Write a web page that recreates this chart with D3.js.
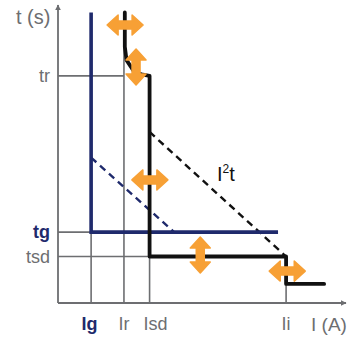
<!DOCTYPE html>
<html>
<head>
<meta charset="utf-8">
<script src="https://cdn.jsdelivr.net/npm/d3@7"></script>
<style>
  body { margin: 0; background: #fff; }
  svg text { font-family: "Liberation Sans", Arial, sans-serif; }
</style>
</head>
<body>
<div id="chart-area"></div>
<script>
// settings on a relative current / time scale (0..100)
var xTicks = [
  { name: "Ig", value: 11.5, bold: true },
  { name: "Ir", value: 22.9 },
  { name: "Isd", value: 31.8 },
  { name: "Ii", value: 79.2 }
];
var yTicks = [
  { name: "tr", value: 76.2 },
  { name: "tg", value: 23.8, bold: true },
  { name: "tsd", value: 15.6 }
];

// breaker trip curve (black)
var tripCurve = [
  [23.2, 97.5], [23.2, 86], [23.8, 81.5], [26.5, 77.5], [29.5, 76.6], [31.8, 76.2],
  [31.8, 15.6], [79.2, 15.6], [79.2, 6.4], [92.4, 6.4]
];
// ground fault curve (blue)
var groundCurve = [[11.5, 97.5], [11.5, 23.8], [76.4, 23.8]];
// I²t dashed lines
var i2tBlack = [[31.8, 57.4], [79.2, 15.6]];
var i2tBlue = [[11.5, 48.8], [40.3, 23.8]];

// grid segments [x1, y1, x2, y2]
var gridLines = [
  [0, 76.2, 22.9, 76.2],
  [0, 23.8, 11.5, 23.8],
  [0, 15.6, 31.8, 15.6],
  [11.5, 0, 11.5, 23.8],
  [22.9, 0, 22.9, 86],
  [31.8, 0, 31.8, 15.6],
  [79.2, 0, 79.2, 6.4]
];

// adjustment arrows: centre, direction
var arrows = [
  { x: 23.3, y: 93.3, dir: "h" },
  { x: 27.1, y: 79.2, dir: "v" },
  { x: 31.9, y: 41.3, dir: "h" },
  { x: 49.4, y: 16.1, dir: "v" },
  { x: 79.6, y: 10.7, dir: "h" }
];

var width = 348, height = 337;
var orange = "#f7a035", navy = "#1f2a6c", grey = "#6d6e71";

var x = d3.scaleLinear().domain([0, 100]).range([58, 346]);
var y = d3.scaleLinear().domain([0, 100]).range([303, 5]);

var svg = d3.select("#chart-area").append("svg")
  .attr("width", width)
  .attr("height", height);

var line = d3.line()
  .x(function(d){ return x(d[0]); })
  .y(function(d){ return y(d[1]); });

svg.selectAll(".grid").data(gridLines).enter()
  .append("line")
    .attr("class", "grid")
    .attr("x1", function(d){ return x(d[0]); })
    .attr("y1", function(d){ return y(d[1]); })
    .attr("x2", function(d){ return x(d[2]); })
    .attr("y2", function(d){ return y(d[3]); })
    .attr("stroke", grey)
    .attr("stroke-width", 1.6);

// axes with arrow heads
svg.append("defs").append("marker")
  .attr("id", "arrowhead")
  .attr("viewBox", "0 0 10 10")
  .attr("refX", 9).attr("refY", 5)
  .attr("markerWidth", 6).attr("markerHeight", 6)
  .attr("markerUnits", "userSpaceOnUse")
  .attr("orient", "auto")
  .append("path")
    .attr("d", "M0,0 L10,5 L0,10 z")
    .attr("fill", grey);

svg.append("line")
  .attr("x1", x(0)).attr("y1", y(0))
  .attr("x2", x(100)).attr("y2", y(0))
  .attr("stroke", grey).attr("stroke-width", 1.8)
  .attr("marker-end", "url(#arrowhead)");
svg.append("line")
  .attr("x1", x(0)).attr("y1", y(0))
  .attr("x2", x(0)).attr("y2", y(100))
  .attr("stroke", grey).attr("stroke-width", 1.8)
  .attr("marker-end", "url(#arrowhead)");

svg.append("path").datum(i2tBlue)
  .attr("d", line).attr("fill", "none")
  .attr("stroke", navy).attr("stroke-width", 2.4)
  .attr("stroke-dasharray", "7,5");
svg.append("path").datum(i2tBlack)
  .attr("d", line).attr("fill", "none")
  .attr("stroke", "#111").attr("stroke-width", 2.4)
  .attr("stroke-dasharray", "7,5");

svg.append("path").datum(groundCurve)
  .attr("d", line).attr("fill", "none")
  .attr("stroke", navy).attr("stroke-width", 3.6);
svg.append("path").datum(tripCurve)
  .attr("d", line).attr("fill", "none")
  .attr("stroke", "#111").attr("stroke-width", 3.8)
  .attr("stroke-linejoin", "round").attr("stroke-linecap", "round");

// double-headed orange arrows
function arrowPath(d) {
  var L = 18, head = 11, hw = 10, sw = 4;
  var pts = [[-L, 0], [-L + head, -hw], [-L + head, -sw], [L - head, -sw], [L - head, -hw],
             [L, 0], [L - head, hw], [L - head, sw], [-L + head, sw], [-L + head, hw]];
  if (d.dir === "v") pts = pts.map(function(p){ return [p[1], p[0]]; });
  return "M" + pts.map(function(p){ return p.join(","); }).join("L") + "Z";
}
svg.selectAll(".adj").data(arrows).enter()
  .append("path")
    .attr("class", "adj")
    .attr("transform", function(d){ return "translate(" + x(d.x) + "," + y(d.y) + ")"; })
    .attr("d", arrowPath)
    .attr("fill", orange)
    .attr("stroke", orange)
    .attr("stroke-width", 1.5)
    .attr("stroke-linejoin", "round");

// tick labels
svg.selectAll(".xlab").data(xTicks).enter()
  .append("text")
    .attr("class", "xlab")
    .attr("x", function(d){ return x(d.value); })
    .attr("dx", function(d){ return d.name === "Isd" ? 6 : (d.name === "Ig" ? -1.5 : 0); })
    .attr("y", 330)
    .attr("text-anchor", "middle")
    .attr("font-size", "18px")
    .attr("font-weight", function(d){ return d.bold ? "bold" : "normal"; })
    .attr("fill", function(d){ return d.bold ? navy : grey; })
    .text(function(d){ return d.name; });

svg.selectAll(".ylab").data(yTicks).enter()
  .append("text")
    .attr("class", "ylab")
    .attr("x", 50)
    .attr("y", function(d){ return y(d.value); })
    .attr("dy", "0.35em")
    .attr("text-anchor", "end")
    .attr("font-size", "18px")
    .attr("font-weight", function(d){ return d.bold ? "bold" : "normal"; })
    .attr("fill", function(d){ return d.bold ? navy : grey; })
    .text(function(d){ return d.name; });

svg.append("text")
  .attr("x", 16).attr("y", 24)
  .attr("font-size", "20px").attr("fill", grey)
  .text("t (s)");
svg.append("text")
  .attr("x", 311).attr("y", 331)
  .attr("font-size", "19px").attr("fill", grey)
  .text("I (A)");

var i2t = svg.append("text")
  .attr("x", 217).attr("y", 181)
  .attr("font-size", "20px").attr("fill", "#111");
i2t.append("tspan").text("I");
i2t.append("tspan").attr("font-size", "12px").attr("dy", "-8").text("2");
i2t.append("tspan").attr("dy", "8").text("t");
</script>
</body>
</html>
